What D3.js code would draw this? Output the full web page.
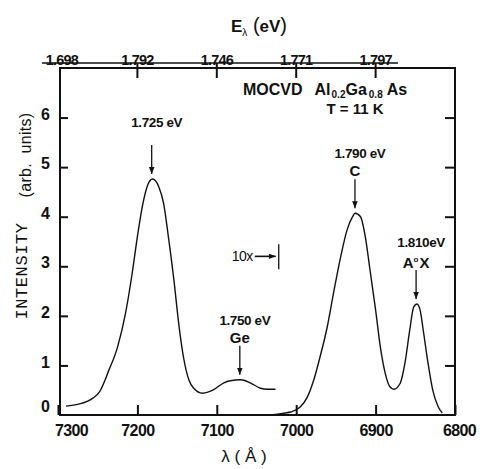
<!DOCTYPE html>
<html>
<head>
<meta charset="utf-8">
<script src="https://cdn.jsdelivr.net/npm/d3@7"></script>
<style>
  body { margin: 0; background: #fff; }
  svg text { font-family: "Liberation Sans", Arial, sans-serif; fill: #111; }
</style>
</head>
<body>
<div id="canvas"></div>
<script>
// main spectrum (left part, up to the 10x mark)
const lambdaA = [7290, 7274, 7256, 7248, 7236, 7225, 7215, 7206, 7200, 7193, 7187, 7181, 7173, 7167, 7161, 7154, 7148, 7142, 7135, 7129, 7118, 7105, 7091, 7083, 7070, 7058, 7045, 7036, 7026];
const intensityA = [0.18, 0.22, 0.34, 0.46, 0.9, 1.37, 2.05, 2.92, 3.6, 4.27, 4.64, 4.76, 4.6, 4.27, 3.6, 2.72, 1.85, 1.17, 0.7, 0.54, 0.44, 0.5, 0.65, 0.69, 0.71, 0.65, 0.54, 0.52, 0.52];
// right part
const lambdaB = [7032, 7014, 7007, 6995, 6986, 6978, 6970, 6961, 6953, 6944, 6936, 6929, 6926, 6919, 6913, 6907, 6900, 6894, 6888, 6882, 6877, 6869, 6863, 6857, 6852, 6848, 6844, 6840, 6834, 6828, 6821, 6816];
const intensityB = [0, 0.04, 0.06, 0.16, 0.36, 0.7, 1.17, 1.77, 2.46, 3.19, 3.73, 4.0, 4.07, 4.0, 3.6, 2.92, 2.12, 1.37, 0.85, 0.57, 0.52, 0.64, 1.05, 1.71, 2.18, 2.24, 2.12, 1.71, 1.05, 0.5, 0.16, 0.04];

const xTicks = [7300, 7200, 7100, 7000, 6900, 6800];
const yTicks = [0, 1, 2, 3, 4, 5, 6];
const topTicks = [7300, 7200, 7100, 7000, 6900];
const topLabels = ["1.698", "1.792", "1.746", "1.771", "1.797"];

const peaks = [
  { lambda: 7182, top: 4.76, label: "1.725 eV", sub: null },
  { lambda: 7071, top: 0.71, label: "1.750 eV", sub: "Ge" },
  { lambda: 6926, top: 4.07, label: "1.790 eV", sub: "C" },
  { lambda: 6849, top: 2.24, label: "1.810eV", sub: "AX" }
];

const width = 480, height = 469;

const svg = d3.select("#canvas").append("svg")
  .attr("width", width).attr("height", height);

const x = d3.scaleLinear().domain([7300, 6800]).range([58, 455]);
const y = d3.scaleLinear().domain([0, 7]).range([415, 68]);

const defs = svg.append("defs");
defs.append("marker")
  .attr("id", "arrow").attr("viewBox", "0 0 10 10")
  .attr("refX", 10).attr("refY", 5)
  .attr("markerWidth", 7).attr("markerHeight", 7)
  .attr("markerUnits", "userSpaceOnUse")
  .attr("orient", "auto")
  .append("path").attr("d", "M0,1 L10,5 L0,9 Z").attr("fill", "#111");

// frame
svg.append("rect")
  .attr("x", 60).attr("y", 68)
  .attr("width", 455 - 60).attr("height", 415 - 68)
  .attr("fill", "none").attr("stroke", "#111").attr("stroke-width", 2);

// bottom axis
const gx = svg.append("g").attr("transform", "translate(0,415)")
  .call(d3.axisBottom(x).tickValues(xTicks).tickSize(-10).tickPadding(10).tickFormat(d3.format("d")));
gx.select(".domain").remove();
gx.selectAll("line").attr("stroke", "#111").attr("stroke-width", 2);
gx.selectAll("text").attr("font-size", 16).attr("font-weight", "bold").attr("letter-spacing", -0.6).attr("fill", "#111")
  .attr("dx", d => d === 7300 ? 13 : d === 6800 ? 4 : 0);

// left axis
const gy = svg.append("g").attr("transform", "translate(60,0)")
  .call(d3.axisLeft(y).tickValues(yTicks).tickSize(-8).tickPadding(10).tickFormat(d3.format("d")));
gy.select(".domain").remove();
gy.selectAll("line").attr("stroke", "#111").attr("stroke-width", 2);
gy.selectAll(".tick").filter(d => d === 0).select("line").remove();
gy.selectAll("text").attr("font-size", 16).attr("font-weight", "bold").attr("fill", "#111")
  .attr("dy", d => d === 0 ? "-0.2em" : "0.1em");

// right axis ticks
const gr = svg.append("g").attr("transform", "translate(455,0)")
  .call(d3.axisRight(y).tickValues(yTicks.filter(d => d > 0)).tickSize(-10).tickFormat(""));
gr.select(".domain").remove();
gr.selectAll("line").attr("stroke", "#111").attr("stroke-width", 2);

// top energy axis
svg.append("line")
  .attr("x1", 42).attr("x2", 398).attr("y1", 63).attr("y2", 63)
  .attr("stroke", "#111").attr("stroke-width", 1.5);
svg.selectAll(".ttick").data(topTicks.slice(1)).enter().append("line")
  .attr("x1", d => x(d)).attr("x2", d => x(d))
  .attr("y1", 63).attr("y2", 78)
  .attr("stroke", "#111").attr("stroke-width", 2);
svg.selectAll(".tlab").data(topTicks).enter().append("text")
  .attr("x", (d, i) => i === 0 ? x(d) + 4 : x(d))
  .attr("y", 65)
  .attr("text-anchor", "middle")
  .attr("font-size", 14.5).attr("font-weight", "bold").attr("letter-spacing", -0.8)
  .text((d, i) => topLabels[i]);

const topTitle = svg.append("text").attr("x", 259).attr("y", 32)
  .attr("text-anchor", "middle").attr("font-size", 17).attr("font-weight", "bold");
topTitle.append("tspan").text("E");
topTitle.append("tspan").attr("font-size", 10).attr("font-weight", "normal").attr("dy", 4).text("λ");
topTitle.append("tspan").attr("dy", -4).attr("font-weight", "normal").attr("font-size", 20).text(" (");
topTitle.append("tspan").text("eV");
topTitle.append("tspan").attr("font-weight", "normal").attr("font-size", 20).text(")");

// axis titles
svg.append("text")
  .attr("transform", "translate(244,462)")
  .attr("text-anchor", "middle").attr("font-size", 17)
  .text("λ ( Å )");

svg.append("text")
  .attr("transform", "translate(27,271) rotate(-90)")
  .attr("text-anchor", "middle")
  .style("font-family", "'Liberation Mono', 'DejaVu Sans Mono', monospace")
  .attr("font-size", 17)
  .attr("letter-spacing", 0.6)
  .text("INTENSITY");
svg.append("text")
  .attr("transform", "translate(31,155) rotate(-90)")
  .attr("text-anchor", "middle").attr("font-size", 16)
  .attr("letter-spacing", 0.3)
  .attr("xml:space", "preserve")
  .text("(arb.  units)");

// curves
const line = d3.line().x(d => x(d[0])).y(d => y(d[1])).curve(d3.curveMonotoneX);
const segA = lambdaA.map((l, i) => [l, intensityA[i]]);
const segB = lambdaB.map((l, i) => [l, intensityB[i]]);
[segA, segB].forEach(seg => {
  svg.append("path").datum(seg).attr("d", line)
    .attr("fill", "none").attr("stroke", "#111").attr("stroke-width", 1.4);
});

// peak annotations
peaks.forEach(p => {
  const px = x(p.lambda);
  const tip = y(p.top) - 5;
  svg.append("line")
    .attr("x1", px).attr("x2", px)
    .attr("y1", tip - 29).attr("y2", tip)
    .attr("stroke", "#111").attr("stroke-width", 1.3)
    .attr("marker-end", "url(#arrow)");
  const labelY = p.sub === "AX" ? tip - 52 : p.sub ? tip - 50 : tip - 47;
  svg.append("text").attr("x", px + 5).attr("y", labelY)
    .attr("text-anchor", "middle").attr("font-size", 13.5).attr("font-weight", "bold")
    .attr("letter-spacing", -0.4)
    .text(p.label);
  if (p.sub === "AX") {
    const t = svg.append("text").attr("x", px).attr("y", tip - 31)
      .attr("text-anchor", "middle").attr("font-size", 15).attr("font-weight", "bold");
    t.append("tspan").text("A");
    t.append("tspan").attr("font-size", 8).attr("dy", -6).text("o");
    t.append("tspan").attr("dy", 6).attr("dx", 1).text("X");
  } else if (p.sub) {
    svg.append("text").attr("x", px).attr("y", tip - 32)
      .attr("text-anchor", "middle").attr("font-size", 15).attr("font-weight", "bold")
      .text(p.sub);
  }
});

// 10x marker
const mx = x(7022);
const my = y(3.2);
svg.append("text").attr("x", mx - 26).attr("y", my + 5)
  .attr("text-anchor", "end").attr("font-size", 14).attr("letter-spacing", -0.5).text("10x");
svg.append("line")
  .attr("x1", mx - 24).attr("x2", mx - 3).attr("y1", my).attr("y2", my)
  .attr("stroke", "#111").attr("stroke-width", 1.6)
  .attr("marker-end", "url(#arrow)");
svg.append("line")
  .attr("x1", mx).attr("x2", mx).attr("y1", my - 12).attr("y2", my + 13)
  .attr("stroke", "#111").attr("stroke-width", 1.3);

// sample text
const s = svg.append("text").attr("x", 243).attr("y", 95)
  .attr("font-size", 16).attr("font-weight", "bold");
s.append("tspan").text("MOCVD");
s.append("tspan").attr("dx", 12).text("Al");
s.append("tspan").attr("font-size", 10).attr("dy", 3).attr("dx", 1).text("0.2");
s.append("tspan").attr("dy", -3).text("Ga");
s.append("tspan").attr("font-size", 10).attr("dy", 3).attr("dx", 2).text("0.8");
s.append("tspan").attr("dy", -3).attr("dx", 4).text("As");
svg.append("text").attr("x", 355).attr("y", 114)
  .attr("text-anchor", "middle").attr("font-size", 15).attr("font-weight", "bold")
  .text("T = 11 K");
</script>
</body>
</html>
